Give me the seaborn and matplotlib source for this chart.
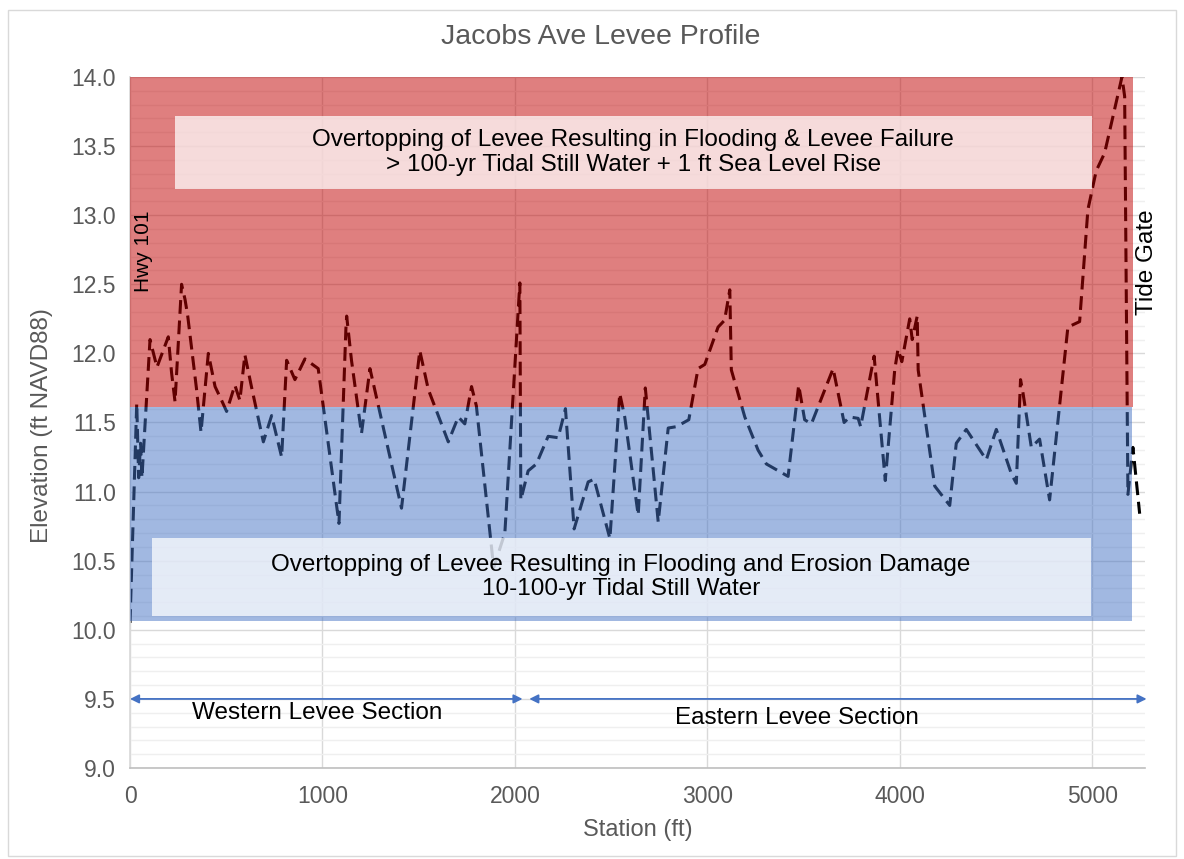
import numpy as np
import pandas as pd
import matplotlib
matplotlib.use("Agg")
import matplotlib.pyplot as plt
import seaborn as sns
from matplotlib.patches import Rectangle
from matplotlib.ticker import MultipleLocator, FormatStrFormatter

# ---------------- data ----------------
station = [0, 35, 45, 55, 62, 104, 140, 199, 216, 234, 268, 286, 300, 345, 369,
           407, 442, 476, 502, 545, 571, 597, 631, 693, 736, 788, 814, 857, 909,
           978, 1086, 1122, 1126, 1151, 1203, 1247, 1411, 1506, 1550, 1654, 1706,
           1740, 1775, 1800, 1890, 1948, 2026, 2031, 2069, 2112, 2173, 2225, 2263,
           2308, 2381, 2412, 2494, 2545, 2571, 2641, 2678, 2745, 2797, 2840, 2904,
           2952, 2987, 3056, 3090, 3117, 3125, 3195, 3264, 3307, 3420, 3475, 3506,
           3541, 3654, 3711, 3740, 3784, 3797, 3867, 3925, 3974, 3991, 4011, 4052,
           4065, 4091, 4096, 4182, 4260, 4294, 4346, 4450, 4502, 4580, 4606, 4628,
           4640, 4684, 4727, 4779, 4874, 4935, 4978, 5021, 5065, 5155, 5169, 5186,
           5212, 5247]
elevation = [10.05, 11.64, 11.10, 11.35, 11.10, 12.10, 11.90, 12.12, 11.86, 11.65,
             12.50, 12.39, 12.27, 11.75, 11.43, 12.00, 11.76, 11.66, 11.58, 11.77,
             11.66, 11.99, 11.76, 11.36, 11.55, 11.25, 11.95, 11.81, 11.96, 11.89,
             10.77, 12.18, 12.27, 11.95, 11.42, 11.89, 10.88, 12.02, 11.74, 11.36,
             11.54, 11.49, 11.76, 11.62, 10.45, 10.70, 12.51, 10.94, 11.15, 11.20,
             11.40, 11.39, 11.60, 10.73, 11.07, 11.09, 10.66, 11.71, 11.54, 10.83,
             11.75, 10.78, 11.46, 11.47, 11.52, 11.89, 11.92, 12.19, 12.24, 12.46,
             11.88, 11.54, 11.30, 11.20, 11.11, 11.77, 11.52, 11.49, 11.89, 11.50,
             11.54, 11.53, 11.47, 11.98, 11.08, 11.88, 12.03, 11.94, 12.25, 12.10,
             12.27, 11.88, 11.04, 10.90, 11.35, 11.45, 11.23, 11.45, 11.13, 11.06,
             11.81, 11.72, 11.32, 11.38, 10.94, 12.19, 12.23, 13.04, 13.32, 13.45,
             14.00, 13.86, 10.98, 11.32, 10.84]

zone_low = [11.61, 10.066]
zone_high = [14.0, 11.61]
zone_end = [5210, 5207]
zone_colors = ["#C00000", "#4472C4"]

box_start = [234, 113]
box_end = [4997, 4992]
box_low = [13.19, 10.10]
box_high = [13.72, 10.667]
box_text = ["Overtopping of Levee Resulting in Flooding & Levee Failure\n"
            "> 100-yr Tidal Still Water + 1 ft Sea Level Rise",
            "Overtopping of Levee Resulting in Flooding and Erosion Damage\n"
            "10-100-yr Tidal Still Water"]

section_names = ["Western Levee Section", "Eastern Levee Section"]
section_start = [0, 2075]
section_end = [2040, 5283]
section_label_x = [971, 3465]
section_label_y = [9.398, 9.362]

x_ticks = [0, 1000, 2000, 3000, 4000, 5000]

# ---------------- style ----------------
sns.set_theme(style="white")
plt.rcParams['font.family'] = ['Liberation Sans', 'DejaVu Sans']
GRAY = "#595959"

fig = plt.figure(figsize=(11.84, 8.59), dpi=100)
ax = fig.add_axes([0.1098, 0.1059, 0.8573, 0.8045])

df = pd.DataFrame({"Station": station, "Elevation": elevation})
sns.lineplot(data=df, x="Station", y="Elevation", ax=ax, color="black",
             linewidth=2.2, linestyle=(0, (4.5, 2.2)), sort=False,
             estimator=None, zorder=2)

# zones (semi-transparent over the line)
for lo, hi, end, c in zip(zone_low, zone_high, zone_end, zone_colors):
    ax.fill_between([0, end], lo, hi, color=c, alpha=0.5, lw=0, zorder=3)

# annotation boxes
for x0, x1, y0, y1, t in zip(box_start, box_end, box_low, box_high, box_text):
    ax.fill_between([x0, x1], y0, y1, color="white", alpha=0.72, lw=0, zorder=4)
    ax.text((x0 + x1) / 2, (y0 + y1) / 2, t, ha="center", va="center",
            fontsize=17.5, color="black", linespacing=1.15, zorder=5)

# section arrows
for s0, s1, nm, lx, ly in zip(section_start, section_end, section_names,
                              section_label_x, section_label_y):
    ax.annotate("", xy=(s1, 9.5), xytext=(s0, 9.5),
                arrowprops=dict(arrowstyle="<|-|>", color="#4472C4", lw=1.3,
                                mutation_scale=13, shrinkA=0, shrinkB=0),
                annotation_clip=False, zorder=5)
    ax.text(lx, ly, nm, ha="center", va="center", fontsize=17.5, color="black",
            zorder=5)

ax.text(68, 12.74, "Hwy 101", rotation=90, ha="center", va="center",
        fontsize=15, color="black", zorder=5)
ax.text(5283, 12.66, "Tide Gate", rotation=90, ha="center", va="center",
        fontsize=17.5, color="black", zorder=5, clip_on=False)

# axes
ax.set_xlim(0, 5275)
ax.set_ylim(9.0, 14.0)
ax.set_xticks(x_ticks)
ax.yaxis.set_major_locator(MultipleLocator(0.5))
ax.yaxis.set_minor_locator(MultipleLocator(0.1))
ax.yaxis.set_major_formatter(FormatStrFormatter("%.1f"))
ax.grid(True, which="major", axis="both", color="#D9D9D9", lw=1.0, zorder=0)
ax.grid(True, which="minor", axis="y", color="#EFEFEF", lw=1.0, zorder=0)
ax.set_axisbelow(True)
ax.tick_params(axis="both", which="both", length=0, labelsize=16.5,
               labelcolor=GRAY)
ax.tick_params(axis="y", pad=10)
ax.tick_params(axis="x", pad=12)
for side in ["top", "right"]:
    ax.spines[side].set_visible(False)
ax.spines["left"].set_color("#D9D9D9")
ax.spines["bottom"].set_color("#BFBFBF")
ax.spines["bottom"].set_linewidth(1.2)
ax.set_xlabel("")
ax.set_ylabel("")

fig.text(0.507, 0.957, "Jacobs Ave Levee Profile", ha="center", va="center",
         fontsize=20.5, color=GRAY)
fig.text(0.539, 0.034, "Station (ft)", ha="center", va="center",
         fontsize=17, color=GRAY)
fig.text(0.0355, 0.505, "Elevation (ft NAVD88)", ha="center", va="center",
         rotation=90, fontsize=17.5, color=GRAY)

fig.patches.append(Rectangle((0.0068, 0.0035), 0.9865, 0.985,
                             transform=fig.transFigure, fill=False,
                             edgecolor="#D9D9D9", lw=1.0))

fig.savefig("out.png", dpi=100)
